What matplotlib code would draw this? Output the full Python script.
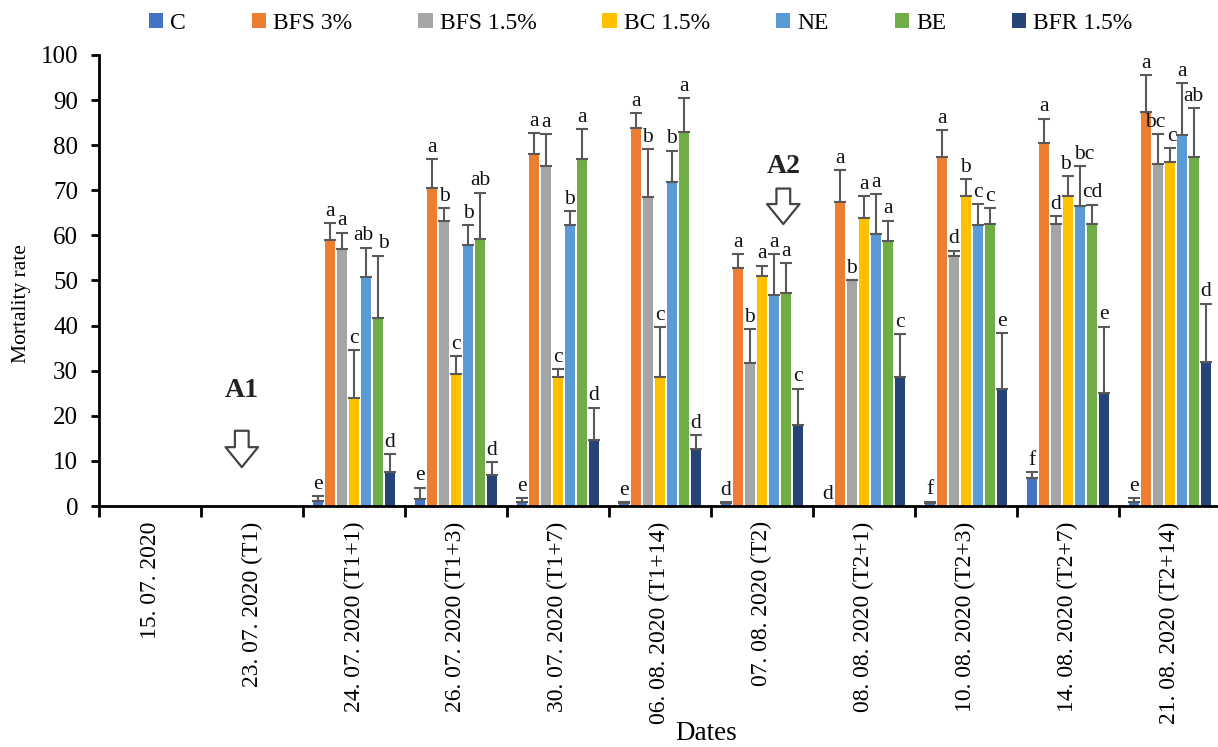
import numpy as np
import matplotlib
matplotlib.use("Agg")
import matplotlib.pyplot as plt

plt.rcParams['font.family'] = ['Liberation Serif', 'DejaVu Serif']

dates = ['15. 07. 2020', '23. 07. 2020 (T1)', '24. 07. 2020 (T1+1)', '26. 07. 2020 (T1+3)',
         '30. 07. 2020 (T1+7)', '06. 08. 2020 (T1+14)', '07. 08. 2020 (T2)',
         '08. 08. 2020 (T2+1)', '10. 08. 2020 (T2+3)', '14. 08. 2020 (T2+7)',
         '21. 08. 2020 (T2+14)']
treatments = ['C', 'BFS 3%', 'BFS 1.5%', 'BC 1.5%', 'NE', 'BE', 'BFR 1.5%']

C = [0, 0, 1.1, 1.6, 0.9, 0.6, 0.6, 0, 0.6, 6.3, 0.8]
C_err = [0, 0, 1.1, 2.5, 0.9, 0.2, 0.2, 0, 0.4, 1.2, 0.9]
BFS3 = [0, 0, 59.0, 70.6, 78.0, 83.7, 52.7, 67.5, 77.3, 80.4, 87.4]
BFS3_err = [0, 0, 3.7, 6.3, 4.6, 3.4, 3.2, 6.9, 6.1, 5.5, 8.2]
BFS15 = [0, 0, 57.0, 63.3, 75.4, 68.6, 31.6, 50.0, 55.4, 62.5, 75.8]
BFS15_err = [0, 0, 3.6, 2.7, 7.0, 10.6, 7.7, 0.0, 1.2, 1.7, 6.7]
BC = [0, 0, 24.0, 29.3, 28.7, 28.7, 50.9, 63.9, 68.7, 68.8, 76.3]
BC_err = [0, 0, 10.6, 4.0, 1.7, 11.0, 2.4, 4.8, 3.8, 4.4, 3.1]
NE = [0, 0, 50.8, 57.9, 62.3, 71.8, 46.8, 60.3, 62.2, 66.6, 82.2]
NE_err = [0, 0, 6.5, 4.4, 3.0, 7.0, 9.1, 8.9, 4.8, 8.8, 11.5]
BE = [0, 0, 41.6, 59.2, 76.9, 83.0, 47.2, 58.8, 62.5, 62.6, 77.3]
BE_err = [0, 0, 13.9, 10.3, 6.7, 7.5, 6.6, 4.5, 3.5, 4.2, 10.9]
BFR = [0, 0, 7.5, 6.9, 14.6, 12.6, 17.9, 28.5, 25.9, 25.1, 32.0]
BFR_err = [0, 0, 4.0, 2.8, 7.2, 3.1, 8.1, 9.6, 12.5, 14.7, 12.9]

C_let = ['', '', 'e', 'e', 'e', 'e', 'd', 'd', 'f', 'f', 'e']
BFS3_let = ['', '', 'a', 'a', 'a', 'a', 'a', 'a', 'a', 'a', 'a']
BFS15_let = ['', '', 'a', 'b', 'a', 'b', 'b', 'b', 'd', 'd', 'bc']
BC_let = ['', '', 'c', 'c', 'c', 'c', 'a', 'a', 'b', 'b', 'c']
NE_let = ['', '', 'ab', 'b', 'b', 'b', 'a', 'a', 'c', 'bc', 'a']
BE_let = ['', '', 'b', 'ab', 'a', 'a', 'a', 'a', 'c', 'cd', 'ab']
BFR_let = ['', '', 'd', 'd', 'd', 'd', 'c', 'c', 'e', 'e', 'd']

colors = ['#4472C4', '#ED7D31', '#A5A5A5', '#FFC000', '#5B9BD5', '#70AD47', '#264478']

series = [C, BFS3, BFS15, BC, NE, BE, BFR]
errs = [C_err, BFS3_err, BFS15_err, BC_err, NE_err, BE_err, BFR_err]
lets = [C_let, BFS3_let, BFS15_let, BC_let, NE_let, BE_let, BFR_let]

# small sideways nudges of crowded letters, (series, date) -> shift
nudge = {(4, 2): -0.03, (5, 2): 0.05, (2, 10): -0.03, (3, 10): 0.02,
         (3, 9): -0.02, (4, 9): 0.04}

fig = plt.figure(figsize=(12.18, 7.47), dpi=100)
ax = fig.add_axes([0.0813, 0.3226, 0.921, 0.6038])

x = np.arange(len(dates))
pitch = 0.1176
w = 0.093
for i in range(7):
    pos = x + (i - 3) * pitch
    vals = np.array(series[i])
    e = np.array(errs[i])
    ax.bar(pos, vals, w, color=colors[i], label=treatments[i], zorder=2)
    show = vals > 0
    ax.errorbar(pos[show], vals[show], yerr=[np.zeros(show.sum()), e[show]],
                fmt='none', ecolor='#595959', elinewidth=1.5, capsize=4.5,
                capthick=1.5, zorder=3)
    for k in range(len(dates)):
        if lets[i][k]:
            ax.text(pos[k] + nudge.get((i, k), 0), vals[k] + e[k] + 0.5, lets[i][k],
                    ha='center', va='bottom', fontsize=15.5, color='#111111')

# application markers
for lab, xa, yt, y0, y1 in [('A1', 0.90, 25.7, 17.3, 8.0), ('A2', 6.21, 75.2, 71.0, 61.9)]:
    ax.text(xa, yt, lab, ha='center', va='center', fontsize=20, fontweight='bold',
            color='#222222')
    ax.annotate('', xy=(xa, y1), xytext=(xa, y0),
                arrowprops=dict(arrowstyle='simple,head_length=0.8,head_width=1.3,tail_width=0.55',
                                mutation_scale=18, fc='white', ec='#444444', lw=1.6))

ax.set_xlim(-0.5, len(dates) - 0.5)
ax.set_ylim(0, 100)
ax.set_yticks(np.arange(0, 101, 10))
ax.set_xticks(x)
ax.set_xticklabels(dates, rotation=90, fontsize=17)
ax.set_xticks(np.arange(-0.5, len(dates), 1), minor=True)
ax.tick_params(axis='x', which='major', length=0, pad=11)
ax.tick_params(axis='x', which='minor', length=8, width=2, direction='out')
ax.tick_params(axis='y', length=6, width=2, labelsize=18, pad=9)
for s in ['top', 'right']:
    ax.spines[s].set_visible(False)
for s in ['left', 'bottom']:
    ax.spines[s].set_linewidth(2)

ax.set_ylabel('Mortality rate', fontsize=15.5)
ax.yaxis.set_label_coords(-0.0606, 0.448)
ax.set_xlabel('Dates', fontsize=19.5)
ax.xaxis.set_label_coords(0.541, -0.477)

fig.legend(loc='center', bbox_to_anchor=(0.526, 0.969), ncol=7, frameon=False,
           fontsize=17, handlelength=0.6, handleheight=0.6, handletextpad=0.3,
           columnspacing=2.8)

fig.savefig('out.png', dpi=100)
